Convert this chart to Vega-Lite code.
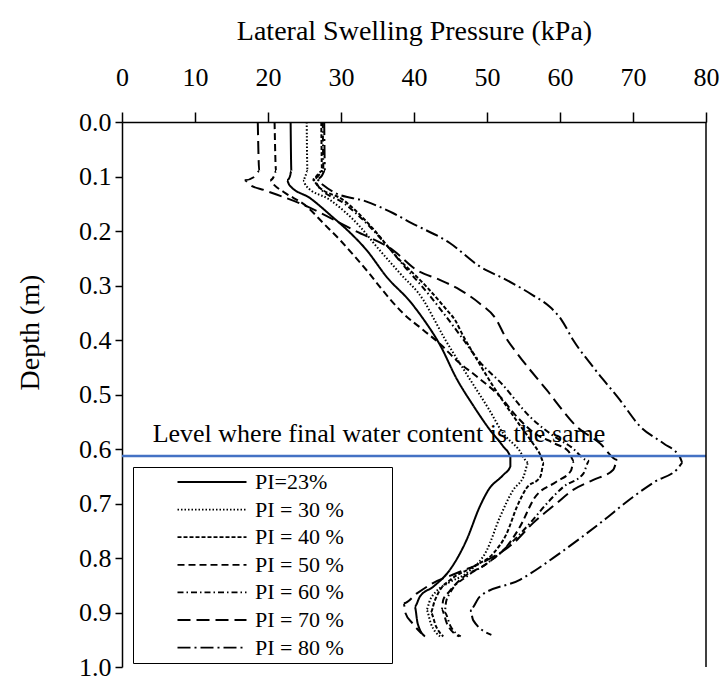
{
  "$schema": "https://vega.github.io/schema/vega-lite/v6.json",
  "width": 584,
  "height": 545,
  "autosize": {"type": "none"},
  "padding": {"left": 122, "top": 122, "right": 18, "bottom": 15},
  "background": "white",
  "config": {"view": {"stroke": null}, "font": "Liberation Serif", "axis": {"labelFont": "Liberation Serif", "titleFont": "Liberation Serif"}},
  "layer": [
    {
      "data": {"values": [
        {"s":"PI=23%","d":0,"p":23.1},{"s":"PI=23%","d":0.09,"p":23.2},{"s":"PI=23%","d":0.1,"p":23.0},{"s":"PI=23%","d":0.107,"p":22.6},{"s":"PI=23%","d":0.115,"p":22.9},{"s":"PI=23%","d":0.14,"p":25.8},{"s":"PI=23%","d":0.175,"p":28.9},{"s":"PI=23%","d":0.2,"p":31},{"s":"PI=23%","d":0.235,"p":33.5},{"s":"PI=23%","d":0.285,"p":36.3},{"s":"PI=23%","d":0.33,"p":39.5},{"s":"PI=23%","d":0.36,"p":41.2},{"s":"PI=23%","d":0.41,"p":43.6},{"s":"PI=23%","d":0.47,"p":45.8},{"s":"PI=23%","d":0.52,"p":48.1},{"s":"PI=23%","d":0.565,"p":50.4},{"s":"PI=23%","d":0.595,"p":52.2},{"s":"PI=23%","d":0.615,"p":53.2},{"s":"PI=23%","d":0.632,"p":53.2},{"s":"PI=23%","d":0.648,"p":52.2},{"s":"PI=23%","d":0.675,"p":50.2},{"s":"PI=23%","d":0.706,"p":49},{"s":"PI=23%","d":0.767,"p":47.2},{"s":"PI=23%","d":0.822,"p":44.9},{"s":"PI=23%","d":0.853,"p":42.6},{"s":"PI=23%","d":0.871,"p":40.8},{"s":"PI=23%","d":0.889,"p":40.1},{"s":"PI=23%","d":0.92,"p":40.5},{"s":"PI=23%","d":0.944,"p":41.5},
        {"s":"PI = 30 %","d":0,"p":25.3},{"s":"PI = 30 %","d":0.09,"p":25.4},{"s":"PI = 30 %","d":0.1,"p":25.1},{"s":"PI = 30 %","d":0.108,"p":24.8},{"s":"PI = 30 %","d":0.117,"p":25.2},{"s":"PI = 30 %","d":0.143,"p":28.5},{"s":"PI = 30 %","d":0.192,"p":32.6},{"s":"PI = 30 %","d":0.229,"p":34.9},{"s":"PI = 30 %","d":0.278,"p":38.1},{"s":"PI = 30 %","d":0.327,"p":41.3},{"s":"PI = 30 %","d":0.363,"p":42.8},{"s":"PI = 30 %","d":0.4,"p":44.3},{"s":"PI = 30 %","d":0.424,"p":45.4},{"s":"PI = 30 %","d":0.473,"p":47.7},{"s":"PI = 30 %","d":0.528,"p":50.3},{"s":"PI = 30 %","d":0.571,"p":52.2},{"s":"PI = 30 %","d":0.6,"p":54.3},{"s":"PI = 30 %","d":0.625,"p":55.7},{"s":"PI = 30 %","d":0.651,"p":55},{"s":"PI = 30 %","d":0.675,"p":53.6},{"s":"PI = 30 %","d":0.724,"p":51.8},{"s":"PI = 30 %","d":0.785,"p":50},{"s":"PI = 30 %","d":0.828,"p":47.2},{"s":"PI = 30 %","d":0.845,"p":44.8},{"s":"PI = 30 %","d":0.862,"p":43},{"s":"PI = 30 %","d":0.877,"p":42.2},{"s":"PI = 30 %","d":0.895,"p":41.7},{"s":"PI = 30 %","d":0.92,"p":42.3},{"s":"PI = 30 %","d":0.944,"p":43.6},
        {"s":"PI = 40 %","d":0,"p":27.3},{"s":"PI = 40 %","d":0.09,"p":27.4},{"s":"PI = 40 %","d":0.1,"p":26.6},{"s":"PI = 40 %","d":0.106,"p":26.1},{"s":"PI = 40 %","d":0.117,"p":26.8},{"s":"PI = 40 %","d":0.143,"p":30.3},{"s":"PI = 40 %","d":0.19,"p":34},{"s":"PI = 40 %","d":0.247,"p":37.6},{"s":"PI = 40 %","d":0.302,"p":41.7},{"s":"PI = 40 %","d":0.345,"p":44.5},{"s":"PI = 40 %","d":0.363,"p":45.6},{"s":"PI = 40 %","d":0.394,"p":46.8},{"s":"PI = 40 %","d":0.424,"p":48.1},{"s":"PI = 40 %","d":0.486,"p":50.9},{"s":"PI = 40 %","d":0.547,"p":54},{"s":"PI = 40 %","d":0.59,"p":56.3},{"s":"PI = 40 %","d":0.608,"p":57.2},{"s":"PI = 40 %","d":0.625,"p":57.8},{"s":"PI = 40 %","d":0.651,"p":57.3},{"s":"PI = 40 %","d":0.672,"p":55.4},{"s":"PI = 40 %","d":0.706,"p":54.1},{"s":"PI = 40 %","d":0.755,"p":52.7},{"s":"PI = 40 %","d":0.791,"p":50.9},{"s":"PI = 40 %","d":0.816,"p":48.1},{"s":"PI = 40 %","d":0.84,"p":45},{"s":"PI = 40 %","d":0.86,"p":43.5},{"s":"PI = 40 %","d":0.88,"p":42.8},{"s":"PI = 40 %","d":0.9,"p":42.3},{"s":"PI = 40 %","d":0.925,"p":43},{"s":"PI = 40 %","d":0.944,"p":44},
        {"s":"PI = 50 %","d":0,"p":20.9},{"s":"PI = 50 %","d":0.09,"p":21.1},{"s":"PI = 50 %","d":0.1,"p":20.8},{"s":"PI = 50 %","d":0.107,"p":20.3},{"s":"PI = 50 %","d":0.115,"p":20.8},{"s":"PI = 50 %","d":0.128,"p":22.1},{"s":"PI = 50 %","d":0.155,"p":25.3},{"s":"PI = 50 %","d":0.186,"p":27.6},{"s":"PI = 50 %","d":0.217,"p":29.9},{"s":"PI = 50 %","d":0.247,"p":31.9},{"s":"PI = 50 %","d":0.28,"p":34},{"s":"PI = 50 %","d":0.302,"p":35.3},{"s":"PI = 50 %","d":0.351,"p":38.5},{"s":"PI = 50 %","d":0.382,"p":41.3},{"s":"PI = 50 %","d":0.41,"p":43.8},{"s":"PI = 50 %","d":0.437,"p":45.8},{"s":"PI = 50 %","d":0.467,"p":48.6},{"s":"PI = 50 %","d":0.504,"p":51.8},{"s":"PI = 50 %","d":0.541,"p":54.1},{"s":"PI = 50 %","d":0.571,"p":56.5},{"s":"PI = 50 %","d":0.59,"p":59.3},{"s":"PI = 50 %","d":0.605,"p":61.2},{"s":"PI = 50 %","d":0.622,"p":61.9},{"s":"PI = 50 %","d":0.64,"p":61.5},{"s":"PI = 50 %","d":0.66,"p":59.5},{"s":"PI = 50 %","d":0.69,"p":56.5},{"s":"PI = 50 %","d":0.743,"p":54.5},{"s":"PI = 50 %","d":0.779,"p":52.7},{"s":"PI = 50 %","d":0.81,"p":50},{"s":"PI = 50 %","d":0.84,"p":46.3},{"s":"PI = 50 %","d":0.862,"p":44.8},{"s":"PI = 50 %","d":0.877,"p":44},{"s":"PI = 50 %","d":0.895,"p":43.8},{"s":"PI = 50 %","d":0.92,"p":44.5},{"s":"PI = 50 %","d":0.944,"p":46.2},
        {"s":"PI = 60 %","d":0,"p":27.5},{"s":"PI = 60 %","d":0.09,"p":27.6},{"s":"PI = 60 %","d":0.1,"p":26.8},{"s":"PI = 60 %","d":0.106,"p":26.2},{"s":"PI = 60 %","d":0.12,"p":27},{"s":"PI = 60 %","d":0.15,"p":30.5},{"s":"PI = 60 %","d":0.19,"p":33.8},{"s":"PI = 60 %","d":0.23,"p":36.5},{"s":"PI = 60 %","d":0.27,"p":39},{"s":"PI = 60 %","d":0.3,"p":41},{"s":"PI = 60 %","d":0.35,"p":44},{"s":"PI = 60 %","d":0.4,"p":46.8},{"s":"PI = 60 %","d":0.44,"p":49},{"s":"PI = 60 %","d":0.48,"p":52},{"s":"PI = 60 %","d":0.541,"p":55.9},{"s":"PI = 60 %","d":0.575,"p":59},{"s":"PI = 60 %","d":0.596,"p":61.5},{"s":"PI = 60 %","d":0.622,"p":64},{"s":"PI = 60 %","d":0.645,"p":63.2},{"s":"PI = 60 %","d":0.669,"p":60.5},{"s":"PI = 60 %","d":0.7,"p":58.2},{"s":"PI = 60 %","d":0.736,"p":55.9},{"s":"PI = 60 %","d":0.78,"p":52.7},{"s":"PI = 60 %","d":0.81,"p":50},{"s":"PI = 60 %","d":0.834,"p":47.2},{"s":"PI = 60 %","d":0.865,"p":44.9},{"s":"PI = 60 %","d":0.88,"p":44.4},{"s":"PI = 60 %","d":0.9,"p":44.2},{"s":"PI = 60 %","d":0.925,"p":45},{"s":"PI = 60 %","d":0.944,"p":46.4},
        {"s":"PI = 70 %","d":0,"p":18.6},{"s":"PI = 70 %","d":0.09,"p":18.8},{"s":"PI = 70 %","d":0.1,"p":18.2},{"s":"PI = 70 %","d":0.107,"p":16.8},{"s":"PI = 70 %","d":0.115,"p":17.5},{"s":"PI = 70 %","d":0.125,"p":19.5},{"s":"PI = 70 %","d":0.15,"p":24.5},{"s":"PI = 70 %","d":0.2,"p":32},{"s":"PI = 70 %","d":0.235,"p":37.1},{"s":"PI = 70 %","d":0.272,"p":40.4},{"s":"PI = 70 %","d":0.29,"p":43.6},{"s":"PI = 70 %","d":0.308,"p":46.3},{"s":"PI = 70 %","d":0.333,"p":49},{"s":"PI = 70 %","d":0.363,"p":51.3},{"s":"PI = 70 %","d":0.394,"p":52.5},{"s":"PI = 70 %","d":0.424,"p":54.1},{"s":"PI = 70 %","d":0.492,"p":58.2},{"s":"PI = 70 %","d":0.559,"p":62.3},{"s":"PI = 70 %","d":0.59,"p":65.5},{"s":"PI = 70 %","d":0.62,"p":67.9},{"s":"PI = 70 %","d":0.638,"p":67.3},{"s":"PI = 70 %","d":0.657,"p":64.5},{"s":"PI = 70 %","d":0.675,"p":61.8},{"s":"PI = 70 %","d":0.7,"p":59.5},{"s":"PI = 70 %","d":0.736,"p":56.3},{"s":"PI = 70 %","d":0.773,"p":53.6},{"s":"PI = 70 %","d":0.804,"p":50},{"s":"PI = 70 %","d":0.828,"p":45.8},{"s":"PI = 70 %","d":0.846,"p":42.6},{"s":"PI = 70 %","d":0.865,"p":40.4},{"s":"PI = 70 %","d":0.883,"p":38.6},{"s":"PI = 70 %","d":0.9,"p":38.8},{"s":"PI = 70 %","d":0.92,"p":39.8},{"s":"PI = 70 %","d":0.938,"p":41},
        {"s":"PI = 80 %","d":0,"p":27.7},{"s":"PI = 80 %","d":0.09,"p":27.8},{"s":"PI = 80 %","d":0.1,"p":27.3},{"s":"PI = 80 %","d":0.105,"p":26.6},{"s":"PI = 80 %","d":0.115,"p":27.5},{"s":"PI = 80 %","d":0.128,"p":28.9},{"s":"PI = 80 %","d":0.146,"p":33.5},{"s":"PI = 80 %","d":0.167,"p":37.1},{"s":"PI = 80 %","d":0.185,"p":39.6},{"s":"PI = 80 %","d":0.222,"p":44.9},{"s":"PI = 80 %","d":0.265,"p":49},{"s":"PI = 80 %","d":0.29,"p":52.7},{"s":"PI = 80 %","d":0.318,"p":56.3},{"s":"PI = 80 %","d":0.339,"p":58.6},{"s":"PI = 80 %","d":0.363,"p":60.2},{"s":"PI = 80 %","d":0.4,"p":61.8},{"s":"PI = 80 %","d":0.449,"p":64.5},{"s":"PI = 80 %","d":0.51,"p":68.2},{"s":"PI = 80 %","d":0.559,"p":71},{"s":"PI = 80 %","d":0.59,"p":74.2},{"s":"PI = 80 %","d":0.614,"p":76.4},{"s":"PI = 80 %","d":0.625,"p":76.8},{"s":"PI = 80 %","d":0.635,"p":76.2},{"s":"PI = 80 %","d":0.66,"p":73},{"s":"PI = 80 %","d":0.688,"p":70},{"s":"PI = 80 %","d":0.736,"p":65.5},{"s":"PI = 80 %","d":0.791,"p":60},{"s":"PI = 80 %","d":0.84,"p":54.5},{"s":"PI = 80 %","d":0.871,"p":49},{"s":"PI = 80 %","d":0.895,"p":47.7},{"s":"PI = 80 %","d":0.914,"p":48.1},{"s":"PI = 80 %","d":0.941,"p":50.6}
      ]},
      "mark": {"type": "line", "color": "black", "strokeWidth": 2, "interpolate": "monotone"},
      "encoding": {
        "x": {
          "field": "p", "type": "quantitative",
          "scale": {"domain": [0, 80], "nice": false, "zero": false},
          "axis": {
            "orient": "top",
            "title": "Lateral Swelling Pressure (kPa)",
            "values": [0,5,10,15,20,25,30,35,40,45,50,55,60,65,70,75,80],
            "labelExpr": "datum.value % 10 === 0 ? datum.label : ''",
            "tickSize": {"condition": {"test": "datum.value % 10 === 0", "value": 10}, "value": 6},
            "grid": false, "domainColor": "black", "domainWidth": 1.5,
            "tickColor": "black", "tickWidth": 1.5,
            "labelFont": "Liberation Serif", "labelFontSize": 26, "labelColor": "black",
            "labelPadding": 22, "labelFlush": false, "labelOverlap": false,
            "titleFont": "Liberation Serif", "titleFontSize": 28, "titleFontWeight": "normal",
            "titleColor": "black", "titlePadding": 19
          }
        },
        "y": {
          "field": "d", "type": "quantitative",
          "scale": {"domain": [0, 1], "reverse": true, "nice": false, "zero": false},
          "axis": {
            "title": "Depth (m)",
            "values": [0,0.05,0.1,0.15,0.2,0.25,0.3,0.35,0.4,0.45,0.5,0.55,0.6,0.65,0.7,0.75,0.8,0.85,0.9,0.95,1],
            "labelExpr": "round(datum.value*100) % 10 === 0 ? format(datum.value, '.1f') : ''",
            "tickSize": {"condition": {"test": "round(datum.value*100) % 10 === 0", "value": 7}, "value": 5},
            "grid": false, "domainColor": "black", "domainWidth": 1.5,
            "tickColor": "black", "tickWidth": 1.5,
            "labelFont": "Liberation Serif", "labelFontSize": 26, "labelColor": "black",
            "labelPadding": 4, "labelFlush": false, "labelOverlap": false,
            "titleFont": "Liberation Serif", "titleFontSize": 28, "titleFontWeight": "normal",
            "titleColor": "black", "titleX": -92, "titleY": 210, "titleAlign": "center", "titleBaseline": "middle", "titleAngle": -90
          }
        },
        "order": {"field": "d", "type": "quantitative"},
        "strokeDash": {
          "field": "s", "type": "nominal",
          "scale": {
            "domain": ["PI=23%", "PI = 30 %", "PI = 40 %", "PI = 50 %", "PI = 60 %", "PI = 70 %", "PI = 80 %"],
            "range": [[1, 0], [1.5, 2], [4, 2], [7, 4], [6, 3, 1.5, 3], [13, 6], [13, 4, 2, 4]]
          },
          "legend": {
            "title": null, "orient": "none", "legendX": 11, "legendY": 345,
            "padding": 4, "strokeColor": "black", "fillColor": "white",
            "symbolType": "M-3.45,0H3.45", "symbolSize": 400, "symbolStrokeWidth": 1.8,
            "symbolStrokeColor": "black", "symbolFillColor": "transparent",
            "symbolOffset": 64, "labelOffset": 32,
            "labelFont": "Liberation Serif", "labelFontSize": 22, "labelColor": "black",
            "rowPadding": 5.6, "labelLimit": 300,
            "labelExpr": "datum.label + '\u2003\u2003\u200b'"
          }
        }
      }
    },
    {
      "data": {"values": [{"d": 0.613}]},
      "mark": {"type": "rule", "color": "#4472C4", "strokeWidth": 2.5},
      "encoding": {"y": {"field": "d", "type": "quantitative"}}
    },
    {
      "data": {"values": [{"p": 80}]},
      "mark": {"type": "rule", "color": "black", "strokeWidth": 1.5},
      "encoding": {"x": {"field": "p", "type": "quantitative"}}
    },
    {
      "data": {"values": [{"t": "Level where final water content is the same", "p": 4.2, "d": 0.5866}]},
      "mark": {"type": "text", "align": "left", "baseline": "alphabetic", "font": "Liberation Serif", "fontSize": 26, "color": "black"},
      "encoding": {
        "x": {"field": "p", "type": "quantitative"},
        "y": {"field": "d", "type": "quantitative"},
        "text": {"field": "t"}
      }
    }
  ]
}
